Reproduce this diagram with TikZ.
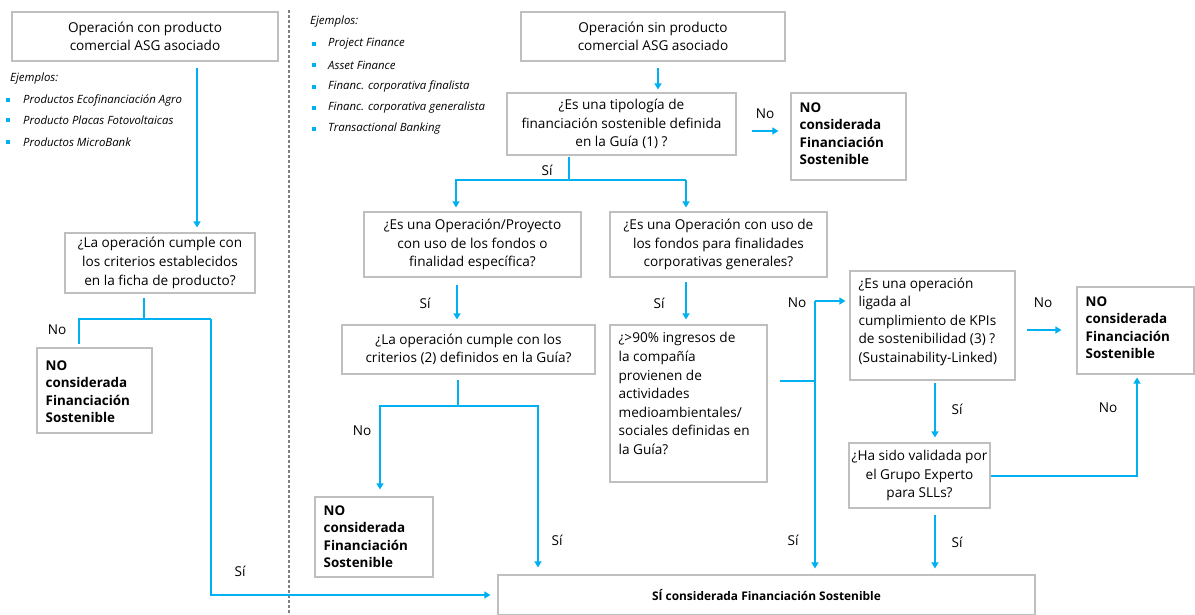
\documentclass[tikz,border=0pt]{standalone}
\usepackage{fontspec}
\setmainfont{Open Sans}
\usetikzlibrary{arrows.meta}
\definecolor{cblue}{RGB}{0,176,240}
\definecolor{cgray}{RGB}{191,191,191}
\definecolor{dgray}{RGB}{128,128,128}
\newcommand\bxfont{\fontsize{13.6}{18.6}\selectfont}
\newcommand\nofont{\fontsize{13.4}{17.5}\selectfont\bfseries}
\newcommand\sifont{\fontsize{11.9}{14}\selectfont\bfseries}
\newcommand\exfont{\fontsize{11.4}{13}\selectfont\itshape}
\begin{document}
\begin{tikzpicture}[x=1pt,y=-1pt,
  box/.style={draw=cgray,line width=1.1pt,inner sep=0pt,align=center,font=\bxfont},
  ltxt/.style={inner sep=0pt,align=left,anchor=north west,font=\bxfont},
  notxt/.style={inner sep=0pt,align=left,anchor=north west,font=\nofont},
  lbl/.style={inner sep=0pt,font=\bxfont},
  ex/.style={inner sep=0pt,anchor=west,font=\exfont},
  bul/.style={fill=cblue,inner sep=0pt,minimum size=4pt},
  ln/.style={draw=cblue,line width=1.3pt},
  arr/.style={ln,-{Triangle[width=7pt,length=6pt]}}]
\useasboundingbox (0,0) rectangle (1195,614);
% separator
\draw[dgray,line width=1.2pt,dash pattern=on 3pt off 2pt] (289,10) -- (289,614);
% boxes
\node[box,minimum width=266pt,minimum height=49pt] (A) at (145,36.5) {Operación con producto\\comercial ASG asociado};
\node[box,minimum width=190pt,minimum height=60pt] (B) at (160,263) {¿La operación cumple con\\los criterios establecidos\\en la ficha de producto?};
\node[box,minimum width=115pt,minimum height=85pt] (C) at (94.5,390.5) {};
\node[notxt] (Ct) at ([shift={(9,13)}]C.north west) {NO\\considerada\\Financiación\\Sostenible};
\node[box,minimum width=264pt,minimum height=49pt] (D) at (653,36.5) {Operación sin producto\\comercial ASG asociado};
\node[box,minimum width=229pt,minimum height=62pt] (E) at (621.5,124) {¿Es una tipología de\\financiación sostenible definida\\en la Guía (1) ?};
\node[box,minimum width=115pt,minimum height=87pt] (G) at (848.5,136.5) {};
\node[notxt] (Gt) at ([shift={(9,10)}]G.north west) {NO\\considerada\\Financiación\\Sostenible};
\node[box,minimum width=217pt,minimum height=65pt] (H) at (472.5,244.5) {¿Es una Operación/Proyecto\\con uso de los fondos o\\finalidad específica?};
\node[box,minimum width=217pt,minimum height=65pt] (I) at (718.5,244.5) {¿Es una Operación con uso de\\los fondos para finalidades\\corporativas generales?};
\node[box,minimum width=253pt,minimum height=49pt] (J) at (468.5,349.5) {¿La operación cumple con los\\criterios (2) definidos en la Guía?};
\node[box,minimum width=118pt,minimum height=80pt] (K) at (374,537) {};
\node[notxt] (Kt) at ([shift={(9,9)}]K.north west) {NO\\considerada\\Financiación\\Sostenible};
\node[box,minimum width=157pt,minimum height=157pt] (L) at (688.5,403.5) {};
\node[ltxt] (Lt) at ([shift={(9,8)}]L.north west) {¿>90\% ingresos de\\la compañía\\provienen de\\actividades\\medioambientales/\\sociales definidas en\\la Guía?};
\node[box,minimum width=165pt,minimum height=109pt] (M) at (932.5,325.5) {};
\node[ltxt] (Mt) at ([shift={(9,7)}]M.north west) {¿Es una operación\\ligada al\\cumplimiento de KPIs\\de sostenibilidad (3) ?\\(Sustainability-Linked)};
\node[box,minimum width=117pt,minimum height=87pt] (N) at (1135.5,330.5) {};
\node[notxt] (Nt) at ([shift={(9,10)}]N.north west) {NO\\considerada\\Financiación\\Sostenible};
\node[box,minimum width=141pt,minimum height=65pt] (O) at (919.5,475.5) {¿Ha sido validada por\\el Grupo Experto\\para SLLs?};
\node[box,minimum width=537pt,minimum height=40pt,font=\sifont] (F) at (766.5,595) {SÍ considerada Financiación Sostenible};
% examples left
\node[ex,anchor=west] (exl) at (10,79) {Ejemplos:};
\foreach \yy/\ltext [count=\i] in {100/Productos Ecofinanciación Agro,120/Producto Placas Fotovoltaicas,142/Productos MicroBank}{
  \node[bul] (bl\i) at (8,\yy) {};
  \node[ex] (tl\i) at (23,\yy) {\ltext};
}
% examples mid
\node[ex,anchor=west] (exm) at (310,22) {Ejemplos:};
\foreach \yy/\ltext [count=\i] in {44/Project Finance,65/Asset Finance,87/Financ. corporativa finalista,108/Financ. corporativa generalista,129/Transactional Banking}{
  \node[bul] (bm\i) at (314,\yy) {};
  \node[ex] (tm\i) at (328,\yy) {\ltext};
}
% connectors left column
\coordinate (a1) at (197,68);
\draw[arr,shorten >=5pt] (a1) -- (a1 |- B.north);
\coordinate (b1) at (144,298);
\coordinate (b2) at (144,319);
\coordinate (b3) at (79,319);
\coordinate (b4) at (211,319);
\draw[ln] (b1) -- (b2);
\draw[ln] (b3 |- C.north) ++(0,-3) -- (b3) -- (b4);
\draw[arr,shorten >=7pt] (b4) |- (F.west);
\node[lbl] (l1) at (57,330) {No};
\node[lbl] (l2) at (240,571) {Sí};
% right part
\coordinate (d1) at (658,68);
\draw[arr,shorten >=3pt] (d1) -- (d1 |- E.north);
\coordinate (e1) at (752,131);
\draw[arr,shorten >=12pt] (e1) -- (e1 -| G.west);
\node[lbl] (l3) at (765,114) {No};
\coordinate (e2) at (569,157);
\coordinate (e3) at (569,180);
\coordinate (e4) at (456,180);
\coordinate (e5) at (686,180);
\draw[ln] (e2) -- (e3);
\draw[arr,shorten >=4pt] (e5) -- (e4) -- (e4 |- H.north);
\draw[arr,shorten >=4pt] (e5) -- (e5 |- I.north);
\node[lbl] (l4) at (547,170) {Sí};
\coordinate (h1) at (457,285);
\draw[arr,shorten >=5pt] (h1) -- (h1 |- J.north);
\node[lbl] (l5) at (425,303) {Sí};
\coordinate (i1) at (686,282);
\draw[arr,shorten >=5pt] (i1) -- (i1 |- L.north);
\node[lbl] (l6) at (659,303) {Sí};
\coordinate (j1) at (458,380);
\coordinate (j2) at (458,406);
\coordinate (j3) at (380,406);
\coordinate (j4) at (538,406);
\draw[ln] (j1) -- (j2);
\draw[arr,shorten >=7pt] (j4) -- (j3) -- (j3 |- K.north);
\draw[arr,shorten >=7pt] (j3) -- (j4) -- (j4 |- F.north);
\node[lbl] (l7) at (362,431) {No};
\node[lbl] (l8) at (557,540) {Sí};
\coordinate (k1) at (780,381);
\coordinate (k2) at (815,381);
\coordinate (k3) at (815,301);
\draw[ln] (k1) -- (k2);
\draw[arr,shorten >=4pt] (k3) -- (k3 -| M.west);
\draw[arr,shorten >=6pt] (k3) -- (k3 |- F.north);
\node[lbl] (l9) at (797,303) {No};
\node[lbl] (l10) at (793,540) {Sí};
\coordinate (m1) at (1027,330);
\draw[arr,shorten >=15pt] (m1) -- (m1 -| N.west);
\node[lbl] (l11) at (1043,303) {No};
\coordinate (m2) at (935,383);
\draw[arr,shorten >=5pt] (m2) -- (m2 |- O.north);
\node[lbl] (l12) at (957,409) {Sí};
\coordinate (o1) at (1137,476);
\draw[arr,shorten >=3pt] (O.east |- o1) -- (o1) -- (o1 |- N.south);
\node[lbl] (l13) at (1108,408) {No};
\coordinate (o2) at (935,515);
\draw[arr,shorten >=6pt] (o2) -- (o2 |- F.north);
\node[lbl] (l14) at (957,542) {Sí};
\end{tikzpicture}
\end{document}
